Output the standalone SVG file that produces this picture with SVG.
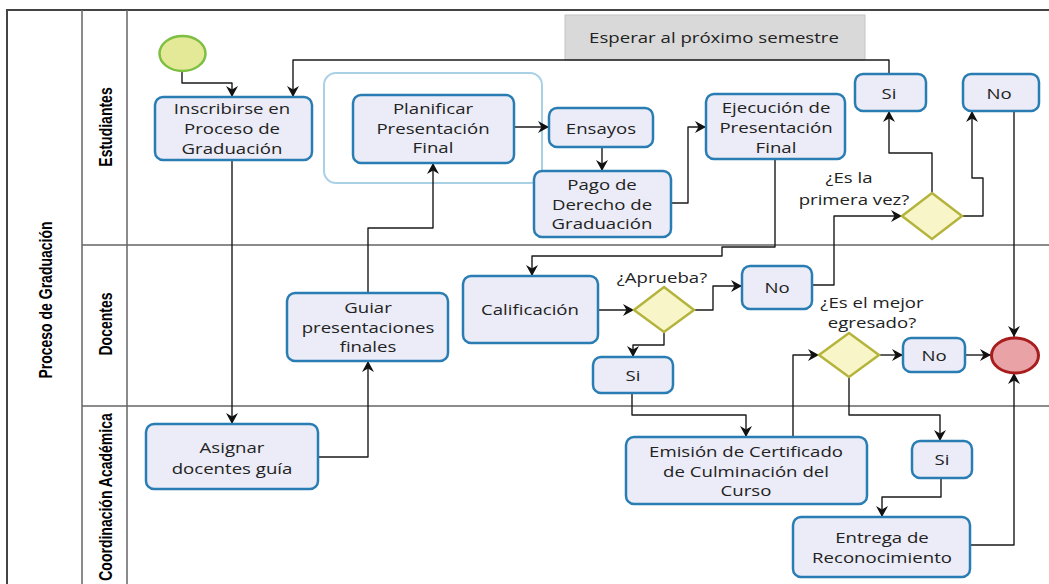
<svg xmlns="http://www.w3.org/2000/svg" width="1049" height="584" viewBox="0 0 1049 584">
<style>
.lane{stroke:#666;stroke-width:1.5;fill:none}
.task{fill:#ebecf7;stroke:#2a7db3;stroke-width:2.5}
.gw{fill:#f8f6c8;stroke:#b4b43c;stroke-width:2.5}
.t{font-family:"Open Sans","DejaVu Sans",sans-serif;font-size:14px;fill:#222;text-anchor:middle;dominant-baseline:central}
.lh{font-family:"Liberation Sans",Arial,sans-serif;font-size:14px;font-weight:bold;fill:#000;text-anchor:middle;dominant-baseline:central}
.c{fill:none;stroke:#1a1a1a;stroke-width:1.4;stroke-linejoin:round;marker-end:url(#a)}
</style>
<defs>
<marker id="a" markerUnits="userSpaceOnUse" markerWidth="12" markerHeight="12" refX="11" refY="6" orient="auto">
<path d="M0,0 L11,6 L0,12 L3.5,6 z" fill="#111"/>
</marker>
</defs>
<rect width="1049" height="584" fill="#fff"/>
<g id="pool">
<path d="M7,584 V10 H1049" fill="none" stroke="#444" stroke-width="2"/>
<path class="lane" d="M82,10 V584 M127,10 V584 M82,245 H1049 M82,406 H1049"/>
<text class="lh" transform="translate(45,300) scale(1.33,1) rotate(-90)">Proceso de Graduación</text>
<text class="lh" transform="translate(105,127) scale(1.33,1) rotate(-90)">Estudiantes</text>
<text class="lh" transform="translate(105,324) scale(1.33,1) rotate(-90)">Docentes</text>
<text class="lh" transform="translate(105,497) scale(1.33,1) rotate(-90)">Coordinación Académica</text>
</g>
<g id="note">
<rect x="565" y="15" width="300" height="45" fill="#d9d9d9" stroke="#c4c4c4"/>
<text class="t" transform="matrix(1.33 0 0 1 714 0)" x="0" y="37">Esperar al próximo semestre</text>
</g>
<g id="group">
<rect x="324" y="73" width="218" height="110" rx="12" fill="none" stroke="#a9d1e6" stroke-width="2"/>
</g>
<g id="connectors">
<path class="c" d="M182,71 V83 H232 V97"/>
<path class="c" d="M232,160 V424"/>
<path class="c" d="M318,457 H368 V361"/>
<path class="c" d="M368,293 V228 H433 V163"/>
<path class="c" d="M514,127 H549"/>
<path class="c" d="M602,147 V171"/>
<path class="c" d="M671,203 H688 V127 H706"/>
<path class="c" d="M775,159 V247 H722 V256 H532 V276"/>
<path class="c" d="M598,310 H634"/>
<path class="c" d="M694,310 H713 V286 H742"/>
<path class="c" d="M664,332 V345 H633 V357"/>
<path class="c" d="M632,393 V415 H746 V437"/>
<path class="c" d="M812,285 H834 V216 H902"/>
<path class="c" d="M932,193 V153 H889 V111"/>
<path class="c" d="M962,216 H983 V178 H972 V111"/>
<path class="c" d="M889,74 V60 H293 V97"/>
<path class="c" d="M1014,111 V337"/>
<path class="c" d="M793,437 V355 H819"/>
<path class="c" d="M879,355 H903"/>
<path class="c" d="M965,355 H991"/>
<path class="c" d="M849,377 V415 H940 V441"/>
<path class="c" d="M941,478 V497 H882 V517"/>
<path class="c" d="M970,545 H1014 V373"/>
</g>
<g id="start"><ellipse cx="182.5" cy="53.5" rx="23" ry="17.5" fill="#e3e997" stroke="#7cbf41" stroke-width="2.5"/></g>
<g id="inscribirse">
<rect class="task" x="155" y="97" width="157" height="63" rx="8"/>
<text class="t" transform="matrix(1.33 0 0 1 232 0)"><tspan x="0" y="108">Inscribirse en</tspan><tspan x="0" y="128">Proceso de</tspan><tspan x="0" y="148">Graduación</tspan></text>
</g>
<g id="planificar">
<rect class="task" x="353" y="95" width="161" height="68" rx="8"/>
<text class="t" transform="matrix(1.33 0 0 1 433 0)"><tspan x="0" y="108">Planificar</tspan><tspan x="0" y="128">Presentación</tspan><tspan x="0" y="147">Final</tspan></text>
</g>
<g id="ensayos">
<rect class="task" x="549" y="108" width="104" height="39" rx="8"/>
<text class="t" transform="matrix(1.33 0 0 1 601 0)" x="0" y="128">Ensayos</text>
</g>
<g id="pago">
<rect class="task" x="534" y="171" width="137" height="66" rx="8"/>
<text class="t" transform="matrix(1.33 0 0 1 602 0)"><tspan x="0" y="184">Pago de</tspan><tspan x="0" y="204">Derecho de</tspan><tspan x="0" y="223">Graduación</tspan></text>
</g>
<g id="ejecucion">
<rect class="task" x="706" y="94" width="139" height="65" rx="8"/>
<text class="t" transform="matrix(1.33 0 0 1 776 0)"><tspan x="0" y="107">Ejecución de</tspan><tspan x="0" y="127">Presentación</tspan><tspan x="0" y="147">Final</tspan></text>
</g>
<g id="si-est">
<rect class="task" x="855" y="74" width="71" height="37" rx="8"/>
<text class="t" transform="matrix(1.33 0 0 1 889 0)" x="0" y="93">Si</text>
</g>
<g id="no-est">
<rect class="task" x="963" y="74" width="76" height="37" rx="8"/>
<text class="t" transform="matrix(1.33 0 0 1 999 0)" x="0" y="93">No</text>
</g>
<g id="gw-primera">
<polygon class="gw" points="932,193 962,216 932,239 902,216"/>
<text class="t" transform="matrix(1.33 0 0 1 849 0)" x="0" y="177">¿Es la</text>
<text class="t" transform="matrix(1.33 0 0 1 854 0)" x="0" y="199">primera vez?</text>
</g>
<g id="guiar">
<rect class="task" x="287" y="293" width="161" height="68" rx="8"/>
<text class="t" transform="matrix(1.33 0 0 1 368 0)"><tspan x="0" y="307">Guiar</tspan><tspan x="0" y="327">presentaciones</tspan><tspan x="0" y="346">finales</tspan></text>
</g>
<g id="calificacion">
<rect class="task" x="463" y="276" width="135" height="67" rx="8"/>
<text class="t" transform="matrix(1.33 0 0 1 530 0)" x="0" y="309">Calificación</text>
</g>
<g id="gw-aprueba">
<polygon class="gw" points="664,287 694,310 664,332 634,310"/>
<text class="t" transform="matrix(1.33 0 0 1 662 0)" x="0" y="277">¿Aprueba?</text>
</g>
<g id="no-doc">
<rect class="task" x="742" y="266" width="70" height="43" rx="8"/>
<text class="t" transform="matrix(1.33 0 0 1 777 0)" x="0" y="287">No</text>
</g>
<g id="si-doc">
<rect class="task" x="593" y="357" width="80" height="36" rx="8"/>
<text class="t" transform="matrix(1.33 0 0 1 633 0)" x="0" y="375">Si</text>
</g>
<g id="gw-mejor">
<polygon class="gw" points="849,333 879,355 849,377 819,355"/>
<text class="t" transform="matrix(1.33 0 0 1 872 0)"><tspan x="0" y="302">¿Es el mejor</tspan><tspan x="0" y="322">egresado?</tspan></text>
</g>
<g id="no-doc2">
<rect class="task" x="903" y="338" width="62" height="34" rx="8"/>
<text class="t" transform="matrix(1.33 0 0 1 934 0)" x="0" y="355">No</text>
</g>
<g id="end"><ellipse cx="1015" cy="355.5" rx="23.5" ry="17.5" fill="#e9a3a6" stroke="#a81e1e" stroke-width="3"/></g>
<g id="asignar">
<rect class="task" x="146" y="424" width="172" height="65" rx="8"/>
<text class="t" transform="matrix(1.33 0 0 1 232 0)"><tspan x="0" y="447">Asignar</tspan><tspan x="0" y="468">docentes guía</tspan></text>
</g>
<g id="emision">
<rect class="task" x="626" y="437" width="241" height="67" rx="8"/>
<text class="t" transform="matrix(1.33 0 0 1 746 0)"><tspan x="0" y="451">Emisión de Certificado</tspan><tspan x="0" y="471">de Culminación del</tspan><tspan x="0" y="490">Curso</tspan></text>
</g>
<g id="si-coord">
<rect class="task" x="912" y="441" width="60" height="37" rx="8"/>
<text class="t" transform="matrix(1.33 0 0 1 942 0)" x="0" y="459">Si</text>
</g>
<g id="entrega">
<rect class="task" x="793" y="517" width="177" height="60" rx="8"/>
<text class="t" transform="matrix(1.33 0 0 1 882 0)"><tspan x="0" y="537">Entrega de</tspan><tspan x="0" y="557">Reconocimiento</tspan></text>
</g>
</svg>
